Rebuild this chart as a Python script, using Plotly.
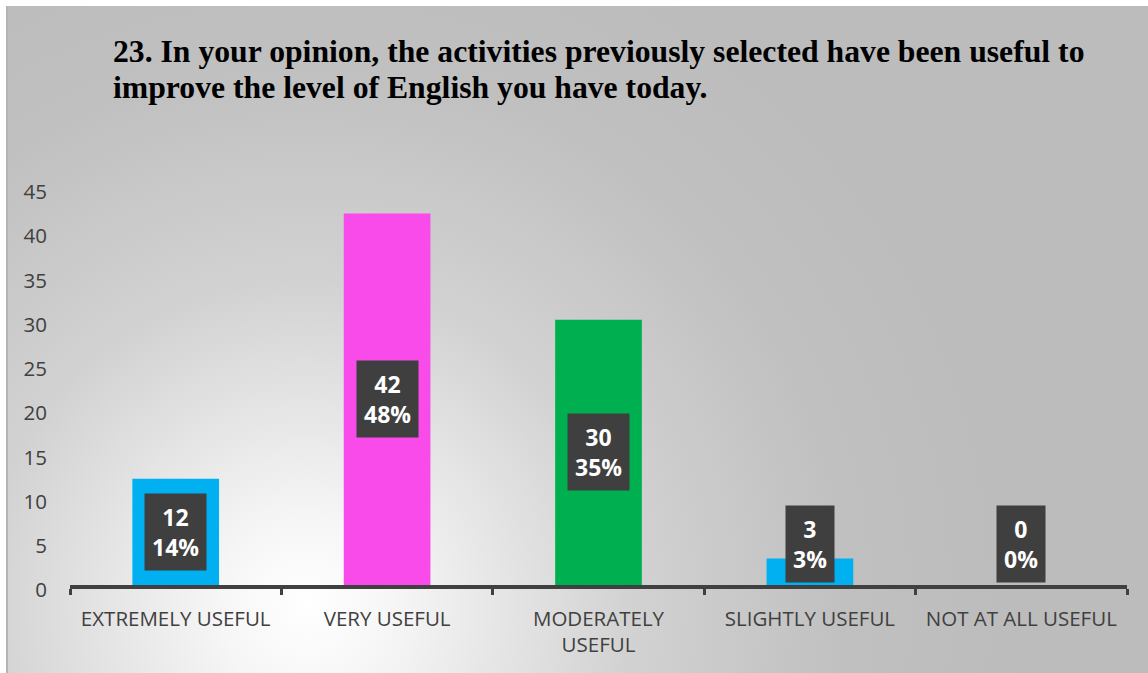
import base64
import plotly.graph_objects as go

# Survey responses
categories = ["EXTREMELY USEFUL", "VERY USEFUL", "MODERATELY<br>USEFUL",
              "SLIGHTLY USEFUL", "NOT AT ALL USEFUL"]
counts = [12, 42, 30, 3, 0]
percent_labels = ["14%", "48%", "35%", "3%", "0%"]
bar_colors = ["#00b0f0", "#f94bea", "#00b050", "#00b0f0", "#00b0f0"]
y_ticks = [0, 5, 10, 15, 20, 25, 30, 35, 40, 45]

title_lines = [
    "23. In your opinion, the activities previously selected have been useful to",
    "improve the level of English you have today.",
]

W, H = 1148, 673
ML, MR, MT, MB = 70, 21, 187, 88
plot_w = W - ML - MR
plot_h = H - MT - MB

# Soft radial grey backdrop for the chart area (with a thin left border)
bx0, by0 = 6, 6
bw, bh = W - bx0, H - by0
svg = f'''<svg xmlns="http://www.w3.org/2000/svg" width="{bw}" height="{bh}" viewBox="0 0 {bw} {bh}">
<defs><radialGradient id="g" gradientUnits="userSpaceOnUse" cx="300" cy="600" r="720">
<stop offset="0" stop-color="#ffffff"/>
<stop offset="0.12" stop-color="#f6f6f6"/>
<stop offset="0.45" stop-color="#d2d2d2"/>
<stop offset="0.75" stop-color="#c0c0c0"/>
<stop offset="1" stop-color="#bcbcbc"/>
</radialGradient></defs>
<rect width="{bw}" height="{bh}" fill="url(#g)"/>
<line x1="1" y1="0" x2="1" y2="{bh}" stroke="#b4b4b4" stroke-width="2"/>
</svg>'''
bg_src = "data:image/svg+xml;base64," + base64.b64encode(svg.encode()).decode()


def px_to_paper_x(px):
    return (px - ML) / plot_w


def px_to_paper_y(py):
    return (H - MB - py) / plot_h


fig = go.Figure()
fig.add_trace(go.Bar(
    x=categories, y=counts,
    marker=dict(color=bar_colors, line=dict(width=0)),
    hoverinfo="skip",
))

# Dark value boxes: count and share
annotations = []
for cat, v, p in zip(categories, counts, percent_labels):
    yc = max(v / 2, 4.6)
    annotations.append(dict(
        x=cat, y=yc, xref="x", yref="y",
        text=f"<b>{v}<br>{p}</b>", showarrow=False,
        font=dict(family="Open Sans", size=23, color="#ffffff"),
        bgcolor="#3f3f3f", borderpad=7, align="center",
        xanchor="center", yanchor="middle",
    ))

# Two-line chart title, left aligned
for line, yc in zip(title_lines, [51, 87]):
    annotations.append(dict(
        x=px_to_paper_x(111), y=px_to_paper_y(yc), xref="paper", yref="paper",
        text=f"<b>{line}</b>", showarrow=False, align="left",
        xanchor="left", yanchor="middle",
        font=dict(family="Liberation Serif", size=31.7, color="#000000"),
    ))

fig.update_layout(
    width=W, height=H,
    margin=dict(l=ML, r=MR, t=MT, b=MB),
    paper_bgcolor="#ffffff",
    plot_bgcolor="rgba(0,0,0,0)",
    showlegend=False,
    bargap=0.59,
    annotations=annotations,
    images=[dict(
        source=bg_src, xref="paper", yref="paper",
        x=px_to_paper_x(bx0), y=px_to_paper_y(by0),
        sizex=bw / plot_w, sizey=bh / plot_h,
        xanchor="left", yanchor="top", sizing="stretch", layer="below",
    )],
    xaxis=dict(
        type="category", showgrid=False, zeroline=False,
        showline=True, linecolor="#404040", linewidth=4,
        ticks="outside", tickson="boundaries", ticklen=6, tickwidth=3,
        tickcolor="#404040", ticklabelstandoff=12,
        tickfont=dict(family="Open Sans", size=20.5, color="#404040"),
        fixedrange=True,
    ),
    yaxis=dict(
        range=[0, 45], tickvals=y_ticks, showgrid=False, zeroline=False,
        showline=False, ticks="", ticklabelstandoff=22, ticklabelshift=5,
        tickfont=dict(family="Open Sans", size=20.5, color="#404040"),
        fixedrange=True,
    ),
)

fig.write_html("out.html", config={"displayModeBar": False})
